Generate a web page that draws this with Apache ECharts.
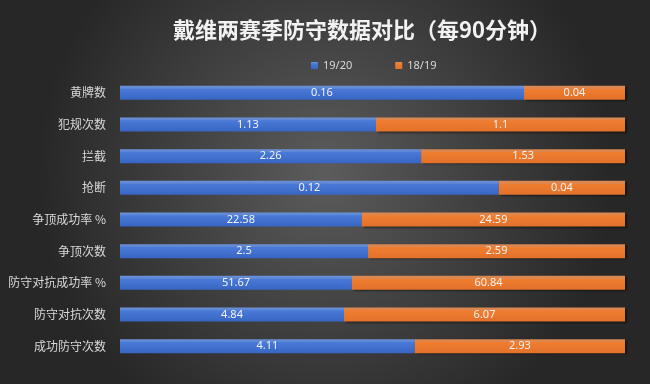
<!DOCTYPE html>
<html><head><meta charset="utf-8">
<script src="https://cdn.jsdelivr.net/npm/echarts@6/dist/echarts.min.js"></script>
<style>html,body{margin:0;padding:0;}#c{width:650px;height:384px;}</style>
</head><body><div id="c"></div>
<script>
const categories = ['黄牌数','犯规次数','拦截','抢断','争顶成功率 %','争顶次数','防守对抗成功率 %','防守对抗次数','成功防守次数'];
const season1920 = [0.16, 1.13, 2.26, 0.12, 22.58, 2.5, 51.67, 4.84, 4.11];
const season1819 = [0.04, 1.1, 1.53, 0.04, 24.59, 2.59, 60.84, 6.07, 2.93];
const seriesNames = ['19/20', '18/19'];

const totals = season1920.map((v, i) => v + season1819[i]);
const share = (arr) => arr.map((v, i) => ({ value: v / totals[i] * 100, raw: v }));

const chart = echarts.init(document.getElementById('c'));
const grad = (top, edge, mid, bot) => new echarts.graphic.LinearGradient(0, 0, 0, 1, [
  { offset: 0, color: top }, { offset: 0.2, color: edge }, { offset: 0.22, color: mid }, { offset: 1, color: bot }
]);
chart.setOption({
  backgroundColor: new echarts.graphic.RadialGradient(0.5, 0.45, 0.75, [
    { offset: 0, color: '#5c5c5c' }, { offset: 1, color: '#272727' }
  ]),
  title: {
    text: '戴维两赛季防守数据对比（每90分钟）',
    left: 357, top: 14, textAlign: 'center',
    textStyle: { color: '#f2f2f2', fontSize: 22, fontWeight: 'bold', fontFamily: 'Noto Sans CJK SC' }
  },
  legend: {
    top: 55, left: 306,
    itemWidth: 7, itemHeight: 7, itemGap: 43, icon: 'rect',
    textStyle: { color: '#d9d9d9', fontSize: 11, fontFamily: 'Noto Sans' },
    data: seriesNames
  },
  grid: { left: 120, right: 25, top: 77, bottom: 22 },
  xAxis: { type: 'value', min: 0, max: 100, show: false },
  yAxis: {
    type: 'category', data: categories, inverse: true,
    axisLine: { show: false }, axisTick: { show: false },
    axisLabel: { color: '#d9d9d9', fontSize: 12, margin: 14, fontFamily: 'Noto Sans CJK SC' }
  },
  series: [
    {
      name: seriesNames[0], type: 'bar', stack: 't', barWidth: 14,
      data: share(season1920),
      itemStyle: { color: grad('#6d92d8', '#5a84d4', '#4a7ad8', '#3765c2') },
      label: { show: true, position: 'inside', color: '#f2f2f2', fontSize: 11, fontFamily: 'Noto Sans',
        formatter: p => String(p.data.raw) }
    },
    {
      name: seriesNames[1], type: 'bar', stack: 't', barWidth: 14,
      data: share(season1819),
      itemStyle: { color: grad('#d98a55', '#e0844a', '#f07e30', '#e2712a'), shadowColor: 'rgba(0,0,0,0.45)', shadowOffsetX: 2, shadowOffsetY: 1, shadowBlur: 2 },
      label: { show: true, position: 'inside', color: '#f2f2f2', fontSize: 11, fontFamily: 'Noto Sans',
        formatter: p => String(p.data.raw) }
    }
  ]
});
</script>
</body></html>
